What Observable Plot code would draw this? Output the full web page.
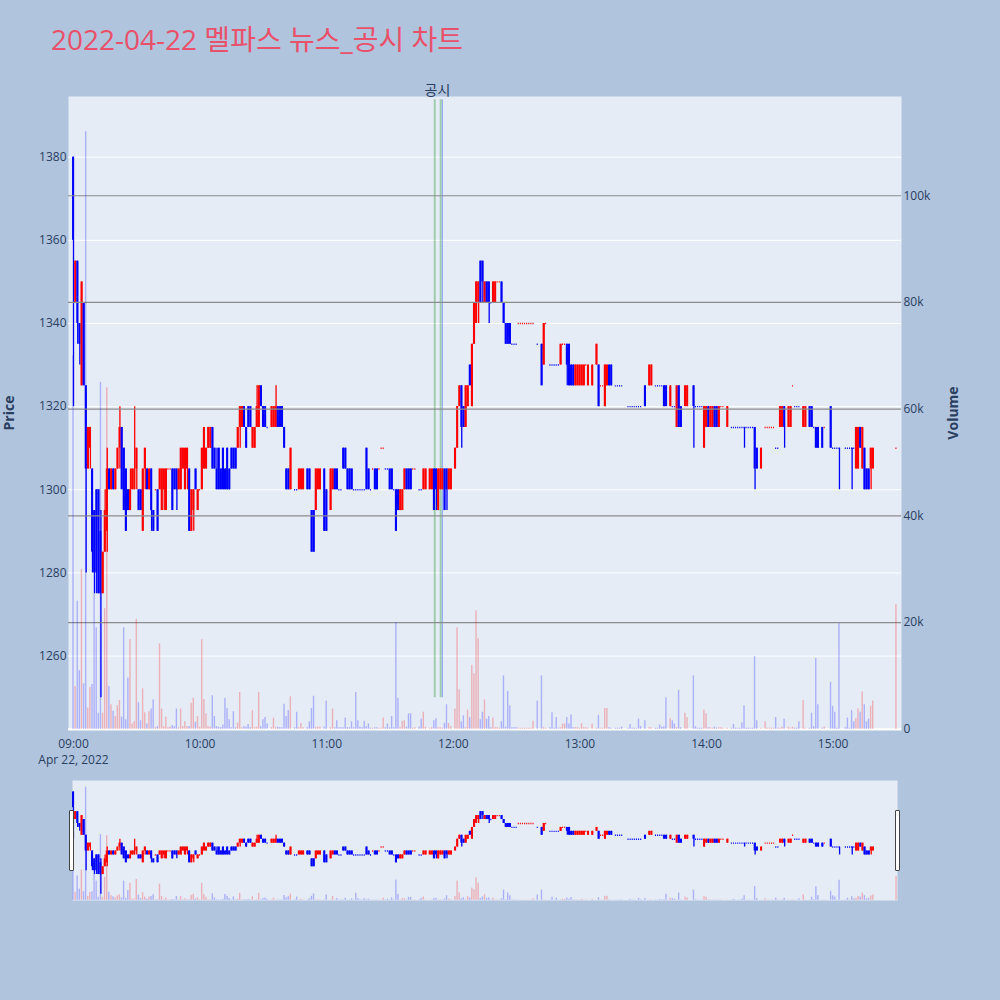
<!DOCTYPE html>
<html>
<head>
<meta charset="utf-8">
<script src="https://cdn.jsdelivr.net/npm/d3@7"></script>
<script src="https://cdn.jsdelivr.net/npm/@observablehq/plot@0.6"></script>
<style>
  html, body { margin: 0; padding: 0; }
  body { width: 1000px; height: 1000px; background: #b0c4de; position: relative; overflow: hidden;
         font-family: "Open Sans", "Noto Sans CJK KR", sans-serif; }
  .layer { position: absolute; left: 0; }
  #title { position: absolute; left: 51px; top: 23px; font-size: 28px; line-height: 32px; color: #e9506a;
           white-space: nowrap; font-family: "Open Sans", "Noto Sans CJK KR", sans-serif; }
  .ytitle { position: absolute; width: 120px; height: 20px; line-height: 20px; text-align: center;
            font-size: 14px; font-weight: bold; color: #2a3f5f; transform: rotate(-90deg); }
  .grip { position: absolute; width: 3px; height: 59px; background: #fff; border: 1px solid #444; border-radius: 1px; }
</style>
</head>
<body>
<div id="title">2022-04-22 멜파스 뉴스_공시 차트</div>
<div class="ytitle" style="left:-51px; top:403px;">Price</div>
<div class="ytitle" style="left:893px; top:403px;">Volume</div>
<div id="main" class="layer" style="top:0"></div>
<div id="mainVol" class="layer" style="top:0"></div>
<div id="slider" class="layer" style="top:780px"></div>
<div id="sliderVol" class="layer" style="top:780px"></div>
<div class="grip" style="left:69px; top:810px;"></div>
<div class="grip" style="left:895px; top:810px;"></div>
<script>
// 1-minute candles for 2022-04-22; minute offsets from the 09:00 open
const minuteOfSession = [
  0,1,2,3,4,5,6,7,8,9,
  10,11,12,13,14,15,16,17,18,19,
  20,21,22,23,24,25,26,27,28,29,
  30,31,32,33,34,35,36,37,38,39,
  40,41,42,43,44,45,46,47,48,49,
  50,51,52,53,54,55,56,57,58,59,
  60,61,62,63,64,65,66,67,68,69,
  70,71,72,73,74,75,76,77,78,79,
  80,81,82,83,84,85,86,87,88,89,
  90,91,92,94,95,96,97,98,99,100,
  101,102,103,105,106,107,108,109,111,112,
  113,114,115,116,117,119,120,122,123,124,
  125,126,127,128,129,130,131,132,133,134,
  135,136,137,138,139,140,141,142,143,144,
  145,146,147,148,149,150,151,152,153,154,
  155,156,157,158,159,160,161,162,164,165,
  166,167,169,170,171,172,173,174,175,176,
  177,178,179,181,182,183,184,185,186,187,
  188,189,190,191,192,193,194,195,196,197,
  198,199,200,201,202,203,204,205,206,207,
  208,209,210,211,212,213,214,215,216,217,
  218,220,222,223,224,226,227,228,229,230,
  231,232,233,234,235,236,237,238,239,240,
  241,242,243,244,246,248,249,250,251,252,
  253,254,255,257,258,259,260,263,264,265,
  266,267,268,269,271,273,274,276,277,278,
  279,280,281,283,284,285,286,287,288,290,
  291,294,295,296,297,298,299,300,301,302,
  303,304,305,306,307,308,310,312,313,314,
  315,316,317,318,319,320,321,322,323,324,
  326,328,329,330,331,332,333,334,335,336,
  337,339,340,341,342,343,344,346,347,349,
  350,351,352,353,355,356,359,360,361,362,
  363,366,367,368,369,370,371,372,373,374,
  375,376,377,378,379,390
];
const open = [
  1380,1345,1355,1340,1325,1345,1325,1305,1310,1305,
  1295,1300,1300,1290,1275,1285,1290,1305,1300,1305,
  1300,1305,1310,1315,1310,1305,1300,1295,1300,1300,
  1305,1300,1300,1290,1305,1305,1300,1305,1295,1300,
  1300,1300,1295,1300,1295,1305,1305,1305,1305,1305,
  1300,1300,1305,1300,1305,1305,1290,1295,1305,1295,
  1300,1300,1305,1305,1310,1310,1315,1310,1305,1310,
  1305,1310,1305,1310,1305,1310,1310,1310,1310,1315,
  1315,1320,1315,1320,1320,1310,1310,1315,1315,1325,
  1320,1320,1315,1315,1315,1315,1320,1320,1320,1315,
  1305,1305,1300,1300,1300,1300,1300,1300,1305,1305,
  1295,1295,1295,1300,1300,1305,1300,1295,1300,1305,
  1305,1300,1300,1310,1310,1305,1305,1305,1300,1300,
  1300,1300,1300,1300,1310,1305,1300,1305,1305,1305,
  1305,1310,1310,1305,1305,1305,1305,1300,1300,1300,
  1295,1295,1300,1305,1305,1305,1305,1305,1300,1300,
  1300,1300,1300,1300,1305,1305,1295,1300,1300,1305,
  1305,1300,1300,1305,1310,1320,1325,1320,1315,1320,
  1330,1320,1335,1340,1345,1355,1355,1345,1350,1350,
  1345,1345,1345,1350,1350,1350,1345,1340,1340,1340,
  1335,1335,1335,1340,1340,1340,1340,1340,1340,1340,
  1340,1335,1335,1330,1340,1330,1330,1330,1330,1330,
  1330,1335,1335,1335,1335,1330,1330,1325,1325,1325,
  1325,1325,1330,1325,1325,1330,1330,1325,1325,1320,
  1325,1330,1330,1325,1325,1325,1325,1320,1320,1320,
  1320,1320,1320,1320,1325,1325,1325,1325,1325,1325,
  1325,1325,1325,1320,1320,1320,1315,1325,1320,1320,
  1320,1325,1320,1320,1320,1320,1310,1315,1320,1315,
  1315,1320,1320,1315,1320,1320,1315,1315,1315,1315,
  1315,1315,1315,1315,1315,1315,1315,1315,1315,1310,
  1305,1315,1315,1315,1315,1315,1310,1310,1315,1315,
  1320,1315,1315,1325,1320,1320,1320,1315,1315,1320,
  1320,1315,1315,1315,1315,1315,1320,1310,1310,1310,
  1310,1310,1310,1310,1310,1310,1305,1305,1315,1305,
  1310,1305,1305,1305,1305,1310
];
const high = [
  1380,1355,1355,1340,1350,1345,1325,1315,1315,1305,
  1295,1300,1300,1295,1285,1300,1310,1305,1305,1305,
  1305,1310,1320,1315,1310,1305,1300,1305,1305,1320,
  1310,1300,1300,1305,1310,1305,1305,1305,1295,1300,
  1300,1305,1305,1305,1305,1305,1305,1305,1305,1305,
  1305,1310,1310,1310,1310,1305,1300,1300,1305,1300,
  1300,1310,1315,1310,1315,1315,1315,1310,1310,1310,
  1305,1310,1305,1310,1305,1310,1310,1310,1315,1320,
  1320,1320,1315,1320,1320,1315,1315,1325,1325,1325,
  1320,1320,1315,1320,1320,1325,1320,1320,1320,1315,
  1305,1305,1310,1300,1300,1305,1305,1305,1305,1305,
  1295,1295,1305,1305,1305,1305,1300,1305,1305,1305,
  1305,1300,1300,1310,1310,1305,1305,1305,1300,1300,
  1300,1300,1300,1300,1310,1305,1300,1305,1305,1305,
  1305,1310,1310,1305,1305,1305,1305,1300,1300,1300,
  1300,1300,1305,1305,1305,1305,1305,1305,1300,1300,
  1305,1305,1305,1305,1305,1305,1305,1305,1305,1305,
  1305,1305,1305,1310,1320,1325,1325,1320,1325,1325,
  1330,1335,1345,1350,1350,1355,1355,1350,1350,1350,
  1345,1350,1350,1350,1350,1350,1345,1340,1340,1340,
  1335,1335,1335,1340,1340,1340,1340,1340,1340,1340,
  1340,1335,1335,1340,1340,1330,1330,1330,1330,1330,
  1335,1335,1335,1335,1335,1330,1330,1330,1330,1330,
  1330,1330,1330,1330,1330,1335,1330,1325,1325,1330,
  1330,1330,1330,1325,1325,1325,1325,1320,1320,1320,
  1320,1320,1320,1320,1325,1330,1330,1325,1325,1325,
  1325,1325,1325,1325,1320,1320,1325,1325,1320,1325,
  1325,1325,1320,1320,1320,1320,1320,1320,1320,1320,
  1320,1320,1320,1320,1320,1320,1320,1315,1315,1315,
  1315,1315,1315,1315,1315,1315,1315,1315,1315,1310,
  1310,1315,1315,1315,1315,1315,1310,1310,1320,1320,
  1320,1320,1320,1325,1320,1320,1320,1320,1320,1320,
  1320,1315,1315,1315,1315,1315,1320,1310,1310,1310,
  1310,1310,1310,1310,1310,1310,1315,1315,1315,1315,
  1310,1305,1305,1310,1310,1310
];
const low = [
  1320,1345,1335,1330,1325,1325,1280,1305,1305,1280,
  1275,1275,1275,1250,1275,1285,1285,1300,1300,1300,
  1300,1305,1305,1300,1295,1290,1295,1295,1300,1300,
  1300,1295,1295,1290,1300,1300,1300,1290,1290,1300,
  1290,1300,1295,1295,1295,1305,1305,1295,1300,1295,
  1300,1300,1305,1300,1300,1290,1290,1290,1300,1295,
  1300,1300,1305,1305,1310,1310,1305,1305,1300,1300,
  1300,1300,1300,1300,1300,1305,1305,1305,1310,1310,
  1315,1315,1310,1315,1315,1310,1310,1315,1315,1320,
  1315,1315,1315,1315,1315,1315,1315,1315,1315,1310,
  1300,1300,1300,1300,1300,1300,1300,1300,1300,1300,
  1285,1285,1295,1300,1300,1290,1290,1295,1300,1300,
  1300,1300,1300,1305,1305,1300,1300,1300,1300,1300,
  1300,1300,1300,1300,1300,1300,1300,1305,1300,1300,
  1305,1310,1310,1305,1305,1300,1300,1300,1290,1295,
  1295,1295,1300,1300,1300,1300,1305,1305,1300,1300,
  1300,1300,1300,1300,1295,1295,1295,1300,1300,1295,
  1295,1300,1300,1305,1310,1320,1310,1315,1315,1320,
  1325,1320,1335,1340,1340,1345,1345,1345,1345,1340,
  1345,1345,1345,1350,1350,1345,1340,1335,1335,1335,
  1335,1335,1335,1340,1340,1340,1340,1340,1340,1340,
  1340,1335,1325,1330,1340,1330,1330,1330,1330,1330,
  1330,1335,1335,1325,1325,1325,1325,1325,1325,1325,
  1325,1325,1330,1325,1325,1330,1320,1325,1325,1320,
  1325,1325,1325,1325,1325,1325,1325,1320,1320,1320,
  1320,1320,1320,1320,1320,1325,1325,1325,1325,1325,
  1325,1320,1320,1320,1320,1320,1315,1315,1315,1320,
  1320,1310,1320,1320,1320,1320,1310,1315,1315,1315,
  1315,1315,1315,1315,1320,1320,1315,1315,1315,1315,
  1315,1315,1315,1310,1315,1315,1315,1315,1300,1305,
  1305,1315,1315,1315,1315,1315,1310,1310,1315,1315,
  1310,1315,1315,1325,1320,1320,1320,1315,1315,1315,
  1315,1315,1310,1310,1310,1315,1310,1310,1310,1310,
  1300,1310,1310,1310,1300,1310,1305,1305,1310,1305,
  1300,1300,1300,1300,1305,1310
];
const close = [
  1360,1355,1340,1335,1350,1325,1305,1315,1315,1285,
  1280,1280,1275,1275,1285,1295,1305,1300,1305,1300,
  1305,1310,1315,1300,1295,1290,1295,1300,1305,1305,
  1310,1295,1295,1305,1310,1300,1305,1295,1290,1300,
  1290,1305,1305,1305,1305,1305,1305,1295,1300,1300,
  1305,1310,1310,1310,1310,1290,1300,1300,1300,1300,
  1300,1310,1315,1310,1315,1315,1305,1305,1300,1300,
  1300,1300,1300,1300,1300,1305,1305,1305,1315,1320,
  1320,1315,1310,1315,1315,1315,1315,1320,1325,1320,
  1315,1315,1315,1320,1320,1320,1315,1315,1315,1310,
  1300,1300,1310,1300,1300,1305,1305,1305,1300,1300,
  1285,1285,1305,1305,1305,1290,1290,1305,1305,1300,
  1300,1300,1300,1305,1305,1300,1300,1300,1300,1300,
  1300,1300,1300,1300,1300,1300,1300,1305,1300,1300,
  1305,1310,1310,1305,1305,1300,1300,1300,1290,1295,
  1300,1300,1305,1300,1300,1300,1305,1305,1300,1300,
  1305,1305,1305,1305,1295,1300,1305,1305,1305,1295,
  1300,1305,1305,1310,1320,1325,1315,1315,1325,1325,
  1325,1335,1345,1350,1350,1345,1350,1350,1345,1345,
  1345,1350,1350,1350,1350,1345,1340,1335,1335,1335,
  1335,1335,1335,1340,1340,1340,1340,1340,1340,1340,
  1340,1335,1325,1340,1340,1330,1330,1330,1330,1330,
  1335,1335,1335,1330,1325,1325,1325,1330,1330,1330,
  1330,1330,1330,1330,1330,1335,1320,1325,1325,1330,
  1330,1325,1325,1325,1325,1325,1325,1320,1320,1320,
  1320,1320,1320,1320,1320,1330,1330,1325,1325,1325,
  1325,1320,1320,1325,1320,1320,1325,1315,1315,1325,
  1325,1320,1320,1320,1320,1320,1320,1320,1315,1320,
  1320,1315,1315,1320,1320,1320,1320,1315,1315,1315,
  1315,1315,1315,1315,1315,1315,1315,1315,1305,1305,
  1310,1315,1315,1315,1315,1315,1310,1310,1320,1320,
  1315,1320,1320,1325,1320,1320,1320,1320,1320,1315,
  1315,1315,1310,1310,1310,1315,1310,1310,1310,1310,
  1310,1310,1310,1310,1310,1310,1315,1315,1310,1315,
  1300,1300,1300,1310,1310,1310
];
// traded volume per minute, thousands of shares
const volumeThousands = [
  70,8,24,11,30,8.5,112,4,7.8,8.4,
  35,19,3,65,3,22.6,64,8,4.6,3.4,
  2.4,4.4,5.4,2.3,19,1.8,9.6,16.8,1,1.4,
  20.6,5,1.6,7.6,3.1,1,3.3,3.8,5.5,0.3,
  0.5,16,3.8,0.5,2.3,0.3,0.4,0.7,0.5,3.8,
  0.3,3.8,0.5,1.4,0.5,0.5,4.9,5.8,1.3,2.4,
  0.4,16.8,5.6,2.9,0.5,0.4,6.3,2.4,0.5,0.4,
  0.3,0.8,5.8,3.9,1.8,0.3,3.3,0.3,1.2,6.9,
  0.3,0.5,0.4,0.9,0.3,3.5,0.3,0.4,6.9,0.5,
  1.8,2.2,1,0.3,2.1,0.3,0.4,0.3,0.3,4.7,
  2.4,3.5,6.1,0.3,3.2,0.3,1.1,0.3,0.3,1.4,
  3.9,6.2,0.3,0.4,0.4,0.4,5.3,0.3,3.8,0.3,
  1.6,0.3,0.3,0.3,2.1,0.3,0.3,1.4,0.3,6.9,
  1.6,0.4,0.3,1.5,0.5,1,0.2,0.2,0.3,0.3,
  0.2,0.2,2.1,0.3,1,0.3,2.4,0.3,20,5.8,
  0.3,1.5,1.6,0.4,2.9,2.9,0.2,0.3,0.4,1.9,
  3.2,0.4,0.2,0.3,1.6,2,0.3,0.3,0.2,1.1,
  4.6,1.1,0.5,3.8,19,7.4,1.4,2.5,0.3,3.6,
  2.2,12,10.4,22.2,17,1.8,3.2,5.5,1.9,2.4,
  0.3,2.1,0.3,0.3,0.2,1.4,10,0.4,7.1,4.4,
  0.3,0.3,0.3,0.2,0.2,0.2,0.2,0.2,0.2,0.2,
  1.5,5.3,10,0.3,0.2,0.3,3.1,0.2,2.2,0.2,
  0.3,1,1,2.2,1,2.7,0.3,0.3,0.3,0.2,
  1,0.3,0.3,0.2,1,0.2,2.6,0.2,0.2,3.9,
  3.9,0.3,0.2,0.2,0.2,0.2,0.4,0.2,0.9,0.2,
  0.2,0.1,1.9,0.5,1.6,0.3,0.3,0.2,0.2,0.8,
  0.4,0.5,5.9,2,1.6,1,0.3,7.3,0.3,3,
  2.2,10,0.5,0.2,0.2,0.2,3.6,2.9,0.3,0.3,
  0.2,0.4,0.2,0.3,0.3,0.2,0.2,0.2,0.9,0.2,
  0.2,0.2,1.2,4.4,0.2,0.2,0.2,0.2,13.6,1.6,
  0.2,1.4,0.2,0.2,0.2,0.2,2.2,0.2,0.2,0.4,
  1.9,0.4,0.2,0.4,0.2,0.2,1.4,5.4,0.2,0.2,
  3,0.5,13.3,4.6,0.2,0.4,8.8,4.3,3.2,0.2,
  19.8,0.3,2.1,0.2,3.5,1.4,2,3.8,3.2,7,
  4.6,1.4,1.9,4.3,5.3,23.4
];
// disclosure (공시) and news (뉴스) times, minutes after 09:00
const disclosureMinutes = [171.2, 174.0];
const newsMinutes = [174.8];
const eventLabel = "공시";
const priceTicks = [1260, 1280, 1300, 1320, 1340, 1360, 1380];
const volumeTicks = [0, 20000, 40000, 60000, 80000, 100000];
const hourTicks = [9, 10, 11, 12, 13, 14, 15];
const sessionDateLabel = "Apr 22, 2022";

const UP = "#ff0000", DOWN = "#0000ff";
const session = m => new Date(Date.UTC(2022, 3, 22, 9, 0) + m * 60000);
const shift = (t, s) => new Date(+t + s * 1000);

const candles = minuteOfSession.map((m, i) => ({
  t: session(m), o: open[i], h: high[i], l: low[i], c: close[i], v: volumeThousands[i] * 1000
}));
// rising / falling: flat candles take their colour from the previous close
{
  let prev = null, up = false;
  for (const d of candles) {
    if (d.c > d.o) up = true;
    else if (d.c < d.o) up = false;
    else if (prev !== null) { if (d.c > prev) up = true; else if (d.c < prev) up = false; }
    d.up = up; prev = d.c;
  }
}
const col = d => d.up ? UP : DOWN;
const bodies = candles.filter(d => d.o !== d.c);
const flats = candles.filter(d => d.o === d.c);

const lowest = d3.min(low), highest = d3.max(high);
const priceDomain = [1242.1, 1394.6];
const volumeDomain = [-225, 118600];
const mainX = [session(-2.37), session(392.4)];
const sliderX = [session(-0.45), session(390.45)];
const font = {background: "transparent", fontFamily: "'Open Sans', 'Noto Sans CJK KR', sans-serif", fontSize: "12px", color: "#2a3f5f", overflow: "visible"};

function candleMarks() {
  return [
    Plot.ruleX(candles, {x: "t", y1: "l", y2: "h", stroke: col, strokeWidth: 1.3}),
    Plot.rect(bodies, {x1: d => shift(d.t, -27), x2: d => shift(d.t, 27),
      y1: d => Math.min(d.o, d.c), y2: d => Math.max(d.o, d.c), fill: col}),
    Plot.ruleY(flats, {y: "c", x1: d => shift(d.t, -15), x2: d => shift(d.t, 15), stroke: col, strokeWidth: 1.4})
  ];
}
function volumeBars() {
  return Plot.rect(candles, {x1: d => shift(d.t, -20), x2: d => shift(d.t, 20), y1: 0, y2: "v", fill: col, fillOpacity: 0.25});
}

const dims = {width: 1000, height: 760, marginLeft: 68, marginRight: 99, marginTop: 96, marginBottom: 30};

const pricePlot = Plot.plot({
  ...dims, style: font,
  x: {type: "utc", domain: mainX},
  y: {domain: priceDomain},
  color: {type: "identity"},
  marks: [
    Plot.frame({fill: "#e5ecf6", stroke: null}),
    Plot.ruleY(priceTicks, {stroke: "#ffffff", strokeWidth: 1}),
    Plot.axisY({ticks: priceTicks, tickSize: 0, tickPadding: 2, label: null, tickFormat: d => String(d)}),
    Plot.axisX({ticks: hourTicks.map(h => session((h - 9) * 60)), tickSize: 0, tickPadding: 6, label: null, lineHeight: 1.35,
      tickFormat: (d, i) => (i === 0 ? d3.utcFormat("%H:%M")(d) + "\n" + sessionDateLabel : d3.utcFormat("%H:%M")(d))}),
    Plot.ruleX(disclosureMinutes.map(session), {x: d => d, y1: lowest, y2: highest * 1.01, stroke: "rgb(0,128,0)", strokeOpacity: 0.3, strokeWidth: 2}),
    Plot.ruleX(newsMinutes.map(session), {x: d => d, y1: lowest, y2: highest * 1.01, stroke: "rgb(40,90,255)", strokeOpacity: 0.5, strokeWidth: 1}),
    ...candleMarks(),
    Plot.text([eventLabel], {x: session(d3.mean(disclosureMinutes) - 0.1), frameAnchor: "top", dy: -6, fontSize: 14, fill: "#2a3f5f", lineAnchor: "middle"})
  ]
});
document.getElementById("main").appendChild(pricePlot);

const volumePlot = Plot.plot({
  ...dims, style: font,
  x: {type: "utc", domain: mainX, axis: null},
  y: {domain: volumeDomain, axis: null},
  color: {type: "identity"},
  marks: [
    Plot.ruleY(volumeTicks.slice(1), {stroke: "#8c8c8c", strokeWidth: 1.2}),
    Plot.ruleY([0], {stroke: "#ffffff", strokeWidth: 2}),
    volumeBars(),
    Plot.axisY({anchor: "right", ticks: volumeTicks, tickSize: 0, tickPadding: 2, label: null,
      tickFormat: d => d === 0 ? "0" : d / 1000 + "k"})
  ]
});
document.getElementById("mainVol").appendChild(volumePlot);

const sdims = {width: 1000, height: 120, marginLeft: 72, marginRight: 103, marginTop: 0, marginBottom: 0};
const sliderPlot = Plot.plot({
  ...sdims, style: font,
  x: {type: "utc", domain: sliderX, axis: null},
  y: {domain: priceDomain, axis: null},
  color: {type: "identity"},
  marks: [
    Plot.frame({fill: "#e5ecf6", stroke: null}),
    ...candleMarks()
  ]
});
document.getElementById("slider").appendChild(sliderPlot);

const sliderVolPlot = Plot.plot({
  ...sdims, style: font,
  x: {type: "utc", domain: sliderX, axis: null},
  y: {domain: volumeDomain, axis: null},
  color: {type: "identity"},
  marks: [volumeBars()]
});
document.getElementById("sliderVol").appendChild(sliderVolPlot);
</script>
</body>
</html>
